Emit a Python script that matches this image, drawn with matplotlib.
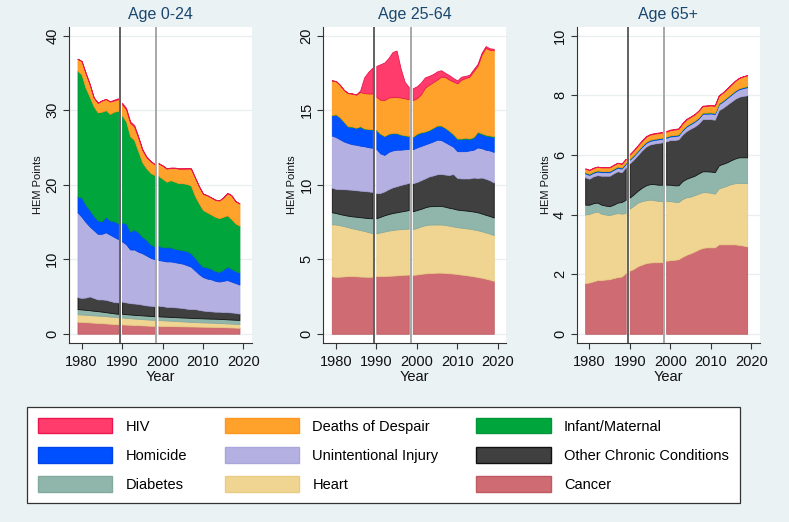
import numpy as np
import matplotlib
matplotlib.use("Agg")
import matplotlib.pyplot as plt
from matplotlib.patches import Patch

plt.rcParams["font.family"] = ["Liberation Sans", "DejaVu Sans"]

years = np.arange(1979, 2020)
segments = [(1979, 1989), (1990, 1998), (1999, 2019)]

# ---- Age 0-24 (HEM points by cause, 1979..2019) ----
cancer_young = [1.60, 1.58, 1.55, 1.52, 1.48, 1.45, 1.42, 1.38, 1.34, 1.30, 1.26,
                1.25, 1.22, 1.20, 1.17, 1.15, 1.12, 1.10, 1.07, 1.05,
                1.05, 1.04, 1.03, 1.02, 1.01, 1.00, 0.99, 0.98, 0.97, 0.96, 0.95,
                0.94, 0.93, 0.92, 0.91, 0.90, 0.88, 0.86, 0.84, 0.82, 0.80]
heart_young = [1.00, 1.00, 0.99, 0.99, 0.98, 0.98, 0.97, 0.97, 0.96, 0.96, 0.95,
               0.92, 0.90, 0.88, 0.86, 0.85, 0.84, 0.82, 0.81, 0.80,
               0.78, 0.76, 0.74, 0.72, 0.70, 0.68, 0.66, 0.64, 0.62, 0.60, 0.59,
               0.58, 0.57, 0.56, 0.55, 0.54, 0.53, 0.52, 0.51, 0.50, 0.50]
diabetes_young = [0.70, 0.68, 0.66, 0.64, 0.62, 0.60, 0.57, 0.54, 0.51, 0.48, 0.45,
                  0.50, 0.50, 0.50, 0.50, 0.50, 0.50, 0.50, 0.50, 0.50,
                  0.50, 0.50, 0.51, 0.51, 0.52, 0.52, 0.52, 0.53, 0.53, 0.53, 0.54,
                  0.54, 0.54, 0.54, 0.55, 0.55, 0.55, 0.55, 0.55, 0.55, 0.55]
other_young = [1.60, 1.54, 1.65, 1.85, 1.72, 1.57, 1.64, 1.66, 1.59, 1.51, 1.54,
               1.63, 1.58, 1.52, 1.52, 1.50, 1.44, 1.38, 1.37, 1.35,
               1.42, 1.40, 1.32, 1.35, 1.32, 1.30, 1.28, 1.20, 1.18, 1.21, 1.12,
               1.04, 1.01, 0.98, 0.94, 0.96, 0.94, 0.97, 0.95, 0.93, 0.85]
injury_young = [11.4, 10.9, 10.15, 9.4, 9.1, 8.8, 8.8, 9.05, 8.9, 8.75, 8.5,
                8.1, 7.8, 7.2, 7.25, 7.0, 6.9, 6.7, 6.45, 6.3,
                6.15, 6.1, 6.1, 6.1, 6.05, 6.0, 5.95, 5.85, 5.7, 5.2, 4.8,
                4.5, 4.35, 4.3, 4.15, 4.05, 4.2, 4.3, 4.15, 4.0, 3.9]
homicide_young = [2.1, 2.6, 2.3, 2.2, 1.9, 1.8, 1.7, 2.1, 1.9, 2.1, 2.1,
                  2.5, 2.8, 2.4, 2.7, 2.6, 2.2, 2.1, 1.8, 1.7,
                  1.9, 1.8, 1.9, 1.9, 1.8, 1.8, 1.8, 1.9, 1.8, 1.7, 1.5,
                  1.4, 1.5, 1.4, 1.3, 1.3, 1.5, 1.8, 1.7, 1.6, 1.6]
infant_young = [16.9, 16.5, 15.7, 15.2, 14.7, 14.5, 14.7, 14.3, 14.3, 14.7, 15.1,
                14.4, 13.7, 12.8, 12.0, 10.9, 10.0, 9.6, 9.6, 9.6,
                9.4, 9.2, 8.8, 9.0, 9.0, 8.9, 9.0, 9.0, 9.1, 8.3, 8.0,
                7.6, 7.4, 7.3, 7.3, 7.2, 7.1, 6.9, 6.7, 6.4, 6.3]
despair_young = [1.6, 1.8, 2.0, 1.7, 1.2, 1.3, 1.5, 1.5, 1.65, 1.5, 1.55,
                 1.5, 1.6, 1.8, 1.8, 1.8, 1.65, 1.5, 1.55, 1.45,
                 1.65, 1.75, 1.75, 1.65, 1.85, 1.95, 1.95, 2.07, 2.27, 2.47, 2.27,
                 2.17, 2.27, 2.27, 2.27, 2.37, 2.57, 2.97, 3.17, 2.97, 2.97]
hiv_young = [0, 0, 0, 0, 0, 0, 0, 0, 0.05, 0.10, 0.15,
             0.20, 0.20, 0.20, 0.20, 0.20, 0.15, 0.10, 0.05, 0.05,
             0.05, 0.05, 0.05, 0.05, 0.05, 0.05, 0.05, 0.03, 0.03, 0.03, 0.03,
             0.03, 0.03, 0.03, 0.03, 0.03, 0.03, 0.03, 0.03, 0.03, 0.03]

# ---- Age 25-64 ----
cancer_mid = [3.85, 3.82, 3.83, 3.85, 3.87, 3.88, 3.86, 3.84, 3.83, 3.82, 3.83,
              3.87, 3.88, 3.88, 3.89, 3.90, 3.92, 3.94, 3.96, 3.97,
              3.95, 3.98, 4.02, 4.05, 4.07, 4.08, 4.10, 4.10, 4.08, 4.06, 4.04,
              4.01, 3.97, 3.94, 3.90, 3.86, 3.81, 3.76, 3.70, 3.63, 3.55]
heart_mid = [3.50, 3.51, 3.45, 3.37, 3.28, 3.20, 3.16, 3.12, 3.07, 3.00, 2.93,
             2.87, 2.92, 2.98, 3.03, 3.06, 3.08, 3.08, 3.08, 3.08,
             3.07, 3.12, 3.18, 3.23, 3.25, 3.25, 3.23, 3.23, 3.22, 3.19, 3.16,
             3.14, 3.15, 3.14, 3.15, 3.14, 3.14, 3.12, 3.10, 3.09, 3.07]
diabetes_mid = [0.80, 0.77, 0.75, 0.75, 0.77, 0.80, 0.83, 0.86, 0.89, 0.94, 0.99,
                1.01, 1.05, 1.09, 1.11, 1.14, 1.15, 1.18, 1.21, 1.25,
                1.20, 1.20, 1.18, 1.20, 1.23, 1.24, 1.25, 1.25, 1.22, 1.20, 1.20,
                1.18, 1.18, 1.19, 1.19, 1.20, 1.20, 1.19, 1.18, 1.18, 1.18]
other_mid = [1.65, 1.62, 1.67, 1.73, 1.76, 1.78, 1.78, 1.78, 1.79, 1.79, 1.77,
             1.68, 1.60, 1.60, 1.67, 1.72, 1.75, 1.78, 1.80, 1.82,
             1.88, 1.88, 1.92, 1.94, 2.00, 2.05, 2.12, 2.14, 2.16, 2.20, 2.32,
             2.12, 2.12, 2.15, 2.18, 2.28, 2.30, 2.41, 2.42, 2.40, 2.35]
injury_mid = [3.50, 3.48, 3.35, 3.20, 3.12, 3.06, 3.05, 3.02, 3.00, 2.97, 2.96,
              2.97, 2.65, 2.45, 2.50, 2.48, 2.45, 2.37, 2.33, 2.28,
              2.28, 2.32, 2.30, 2.28, 2.25, 2.28, 2.32, 2.28, 2.17, 2.05, 1.83,
              1.80, 1.83, 1.83, 1.88, 1.87, 2.05, 1.97, 1.95, 2.00, 2.05]
homicide_mid = [1.35, 1.50, 1.45, 1.30, 1.10, 1.16, 1.12, 1.28, 1.17, 1.20, 1.22,
                1.25, 1.30, 1.25, 1.20, 1.15, 1.10, 1.00, 0.92, 0.85,
                0.82, 0.90, 0.90, 0.85, 0.85, 0.90, 0.93, 0.95, 0.95, 0.90, 0.80,
                0.80, 0.80, 0.85, 0.75, 0.80, 1.00, 0.95, 0.95, 0.95, 1.00]
infant_mid = [0.03] * 30 + [0.06] * 11
despair_mid = [2.32, 2.22, 2.17, 2.12, 2.22, 2.21, 2.22, 2.29, 2.37, 2.37, 2.39,
               2.22, 2.27, 2.40, 2.42, 2.40, 2.40, 2.47, 2.47, 2.45,
               2.45, 2.37, 2.52, 2.92, 3.02, 3.05, 3.07, 3.27, 3.39, 3.42, 3.51,
               3.69, 3.94, 3.99, 4.14, 4.41, 4.42, 5.27, 5.82, 5.74, 5.76]
hiv_mid = [0, 0, 0, 0, 0, 0, 0, 0.10, 1.05, 1.45, 1.72,
           2.07, 2.38, 2.52, 2.65, 3.02, 3.12, 1.95, 1.10, 0.82,
           0.79, 0.80, 0.80, 0.70, 0.60, 0.54, 0.55, 0.43, 0.28, 0.30, 0.23,
           0.20, 0.20, 0.15, 0.13, 0.13, 0.12, 0.12, 0.12, 0.10, 0.10]

# ---- Age 65+ ----
cancer_old = [1.70, 1.72, 1.76, 1.80, 1.80, 1.82, 1.83, 1.87, 1.90, 1.92, 2.04,
              2.12, 2.18, 2.27, 2.32, 2.37, 2.39, 2.40, 2.40, 2.40,
              2.45, 2.47, 2.48, 2.50, 2.58, 2.65, 2.70, 2.76, 2.83, 2.88, 2.90,
              2.90, 2.90, 3.00, 3.00, 3.00, 3.00, 3.00, 2.98, 2.96, 2.93]
heart_old = [2.30, 2.30, 2.31, 2.30, 2.23, 2.18, 2.15, 2.15, 2.15, 2.11, 2.01,
             2.08, 2.12, 2.13, 2.13, 2.11, 2.11, 2.08, 2.06, 2.05,
             2.00, 1.98, 1.95, 1.92, 1.94, 1.93, 1.90, 1.89, 1.87, 1.87, 1.85,
             1.83, 1.80, 1.88, 1.92, 1.97, 2.02, 2.05, 2.08, 2.10, 2.12]
diabetes_old = [0.33, 0.31, 0.31, 0.30, 0.30, 0.30, 0.30, 0.31, 0.35, 0.39, 0.45,
                0.37, 0.38, 0.40, 0.45, 0.50, 0.52, 0.54, 0.54, 0.55,
                0.55, 0.55, 0.55, 0.56, 0.60, 0.62, 0.65, 0.65, 0.68, 0.70, 0.70,
                0.71, 0.72, 0.77, 0.78, 0.78, 0.80, 0.83, 0.86, 0.86, 0.87]
other_old = [0.92, 0.87, 0.90, 0.92, 0.97, 1.00, 1.02, 1.05, 1.05, 1.00, 1.08,
             1.15, 1.17, 1.20, 1.25, 1.30, 1.33, 1.36, 1.40, 1.42,
             1.45, 1.50, 1.52, 1.54, 1.56, 1.60, 1.63, 1.65, 1.67, 1.75, 1.75,
             1.76, 1.76, 1.85, 1.88, 1.93, 1.96, 2.00, 2.03, 2.06, 2.08]
injury_old = [0.13, 0.13] + [0.12] * 18 + [
    0.12, 0.12, 0.13, 0.13, 0.14, 0.15, 0.15, 0.16, 0.17, 0.18, 0.18,
    0.19, 0.19, 0.20, 0.21, 0.22, 0.23, 0.24, 0.25, 0.26, 0.27]
homicide_old = [0.03] * 41
infant_old = [0.01] * 41
despair_old = [0.12] * 11 + [0.13, 0.14, 0.15, 0.16, 0.17, 0.17, 0.17, 0.17, 0.17] + [
    0.17, 0.17, 0.18, 0.18, 0.19, 0.20, 0.20, 0.21, 0.22, 0.22, 0.23,
    0.23, 0.24, 0.25, 0.26, 0.28, 0.30, 0.32, 0.34, 0.35, 0.36]
hiv_old = [0.01] * 11 + [0.02] * 16 + [0.01] * 14

# stacking order, bottom to top
causes = ["Cancer", "Heart", "Diabetes", "Other Chronic Conditions",
          "Unintentional Injury", "Homicide", "Infant/Maternal",
          "Deaths of Despair", "HIV"]
face_colors = ["#cf6b72", "#f0d592", "#90b5ab", "#404040", "#b4b1e2",
               "#0050ff", "#00a53c", "#ffa22c", "#ff3c6c"]
edge_colors = ["#bf5a62", "#e9cc84", "#84aaa0", "#111111", "#a9a6dc",
               "#0044e8", "#00963a", "#ff951e", "#e8184e"]

panels = [
    ("Age 0-24", [cancer_young, heart_young, diabetes_young, other_young, injury_young,
                  homicide_young, infant_young, despair_young, hiv_young],
     [0, 10, 20, 30, 40], (-1.21, 41.2)),
    ("Age 25-64", [cancer_mid, heart_mid, diabetes_mid, other_mid, injury_mid,
                   homicide_mid, infant_mid, despair_mid, hiv_mid],
     [0, 5, 10, 15, 20], (-0.6, 20.6)),
    ("Age 65+", [cancer_old, heart_old, diabetes_old, other_old, injury_old,
                 homicide_old, infant_old, despair_old, hiv_old],
     [0, 2, 4, 6, 8, 10], (-0.3, 10.3)),
]

W, H = 789, 522
fig = plt.figure(figsize=(W / 100, H / 100), dpi=100, facecolor="#eaf2f3")

lefts = [69, 323.3, 576.7]
ax_w, ax_top, ax_bot = 183, 26.7, 342.7

for left, (title, series, yticks, ylim) in zip(lefts, panels):
    ax = fig.add_axes([left / W, 1 - ax_bot / H, ax_w / W, (ax_bot - ax_top) / H])
    ax.set_facecolor("white")

    for y0, y1 in segments:
        mask = (years >= y0) & (years <= y1)
        polys = ax.stackplot(years[mask], *[np.asarray(s)[mask] for s in series],
                             colors=face_colors, linewidth=0.6, zorder=2)
        for poly, ec in zip(polys, edge_colors):
            poly.set_edgecolor(ec)

    ax.axvline(1989.5, color="#555555", linewidth=1.3, zorder=3)
    ax.axvline(1998.5, color="#a0a0a0", linewidth=1.3, zorder=3)

    ax.set_xlim(1976.9, 2022.1)
    ax.set_ylim(*ylim)
    ax.set_xticks([1980, 1990, 2000, 2010, 2020])
    ax.set_yticks(yticks)
    ax.yaxis.grid(True, color="#e8eff1", linewidth=0.9, zorder=0)
    ax.set_axisbelow(True)

    for side in ("top", "right"):
        ax.spines[side].set_visible(False)
    for side in ("left", "bottom"):
        ax.spines[side].set_color("#333333")
        ax.spines[side].set_linewidth(0.8)

    ax.tick_params(direction="out", length=4, width=0.8, color="#333333",
                   labelsize=10.5, labelcolor="#111111")
    ax.tick_params(axis="x", pad=5)
    ax.tick_params(axis="y", pad=3)
    for lab in ax.get_yticklabels():
        lab.set_rotation(90)
        lab.set_va("center")

    cx = (left + ax_w / 2) / W
    fig.text(cx, 1 - 15 / H, title, ha="center", va="center",
             fontsize=11.5, color="#1a476f")
    fig.text(cx, 1 - 377 / H, "Year", ha="center", va="center",
             fontsize=10.5, color="#111111")
    fig.text((left - 31) / W, 1 - 184.7 / H, "HEM Points", ha="center", va="center",
             rotation=90, fontsize=8, color="#111111")

# legend in row-major order of the reference (matplotlib fills columns)
legend_order = ["HIV", "Homicide", "Diabetes",
                "Deaths of Despair", "Unintentional Injury", "Heart",
                "Infant/Maternal", "Other Chronic Conditions", "Cancer"]
handles = []
for name in legend_order:
    k = causes.index(name)
    handles.append(Patch(facecolor=face_colors[k], edgecolor=edge_colors[k],
                         linewidth=1.0, label=name))

leg = fig.legend(handles=handles, ncol=3, loc="upper left",
                 bbox_to_anchor=(27 / W, 1 - 407 / H), fontsize=10.5,
                 handlelength=5.1, handleheight=1.25, handletextpad=0.9,
                 columnspacing=2.6, labelspacing=0.93, borderpad=0.75,
                 frameon=True, fancybox=False, framealpha=1, borderaxespad=0)
leg.get_frame().set_edgecolor("#333333")
leg.get_frame().set_linewidth(0.9)

fig.savefig("out.png", dpi=100, facecolor=fig.get_facecolor())
